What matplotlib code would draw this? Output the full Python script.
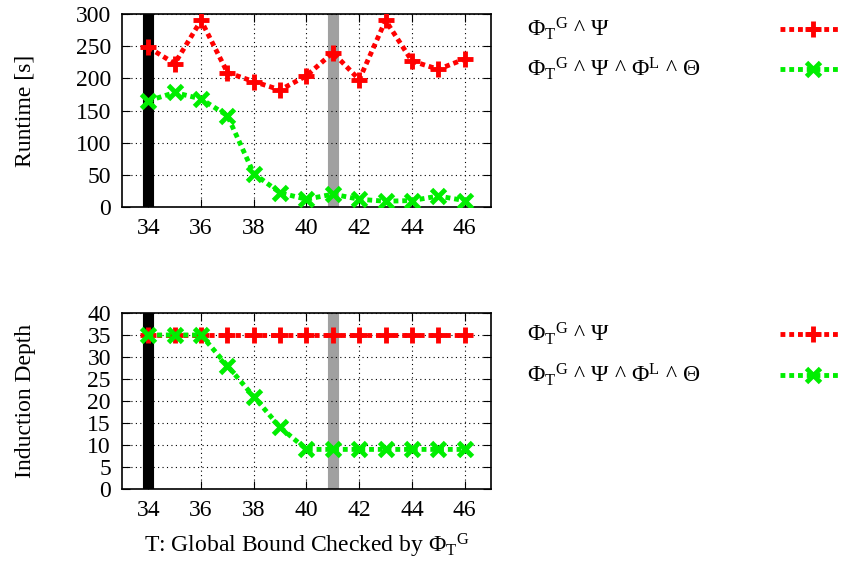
import matplotlib
matplotlib.use("Agg")
import matplotlib.pyplot as plt
from matplotlib.lines import Line2D

plt.rcParams['font.family'] = ['Liberation Serif', 'DejaVu Serif']
plt.rcParams['mathtext.fontset'] = 'custom'
plt.rcParams['mathtext.rm'] = 'Liberation Serif'
plt.rcParams['mathtext.it'] = 'Liberation Serif'
plt.rcParams['mathtext.bf'] = 'Liberation Serif'

T = [34, 35, 36, 37, 38, 39, 40, 41, 42, 43, 44, 45, 46]
runtime_base = [248, 223, 290, 209, 195, 182, 204, 240, 198, 290, 227, 214, 230]
runtime_full = [165, 178, 168, 142, 52, 22, 12, 20, 12, 9, 10, 17, 10]
depth_base = [35, 35, 35, 35, 35, 35, 35, 35, 35, 35, 35, 35, 35]
depth_full = [35, 35, 35, 28, 21, 14, 9, 9, 9, 9, 9, 9, 9]
xticks = [34, 36, 38, 40, 42, 44, 46]
black_bar = 34
gray_bar = 41

label_base = r'$\Phi_\mathrm{T}{}^\mathrm{G}$ ^ $\Psi$'
label_full = r'$\Phi_\mathrm{T}{}^\mathrm{G}$ ^ $\Psi$ ^ $\Phi^\mathrm{L}$ ^ $\Theta$'

W, H = 841, 567
fig = plt.figure(figsize=(W / 100, H / 100), dpi=100)

def ax_rect(l, t, r, b):
    return [l / W, 1 - b / H, (r - l) / W, (b - t) / H]

ax1 = fig.add_axes(ax_rect(122, 14, 491, 207))
ax2 = fig.add_axes(ax_rect(122, 313, 491, 489))

FS = 17
red = '#ff0000'
green = '#00ee00'

def style(ax, ylim, yticks, ylabel):
    ax.axvline(black_bar, color='black', lw=8, zorder=1)
    ax.axvline(gray_bar, color='#a0a0a0', lw=8, zorder=1)
    ax.set_xlim(33, 47)
    ax.set_ylim(*ylim)
    ax.set_xticks(xticks)
    ax.set_yticks(yticks)
    ax.grid(True, color='black', linestyle=(0, (1, 3)), lw=0.8)
    ax.tick_params(direction='in', top=True, right=True, labelsize=FS, length=6, pad=8)
    ax.set_ylabel(ylabel, fontsize=FS)
    ax.yaxis.set_label_coords((36 - 122) / 369, 0.5)
    for s in ax.spines.values():
        s.set_linewidth(1.2)

style(ax1, (0, 300), range(0, 301, 50), 'Runtime [s]')
style(ax2, (0, 40), range(0, 41, 5), 'Induction Depth')

kw_base = dict(color=red, lw=3.5, linestyle=(0, (1, 0.8)), marker='+', ms=11, mew=3.5, zorder=3)
kw_full = dict(color=green, lw=3.5, linestyle=(0, (1, 0.8)), marker='x', ms=9.5, mew=3.5, zorder=3)
ax1.plot(T, runtime_base, **kw_base)
ax1.plot(T, runtime_full, **kw_full)
ax2.plot(T, depth_base, **kw_base)
ax2.plot(T, depth_full, **kw_full)

ax2.set_xlabel(r'T: Global Bound Checked by $\Phi_\mathrm{T}{}^\mathrm{G}$', fontsize=FS, labelpad=8)

def legend(y1, y2):
    for y, lab, kw in [(y1, label_base, kw_base), (y2, label_full, kw_full)]:
        fig.text(527 / W, 1 - y / H, lab, fontsize=FS, va='center', ha='left')
        ln = Line2D([780 / W, 813 / W, 846 / W], [1 - y / H] * 3, transform=fig.transFigure,
                    markevery=[1], **kw)
        fig.add_artist(ln)

legend(29, 69)
legend(334, 375)

fig.savefig('out.png', dpi=100)
